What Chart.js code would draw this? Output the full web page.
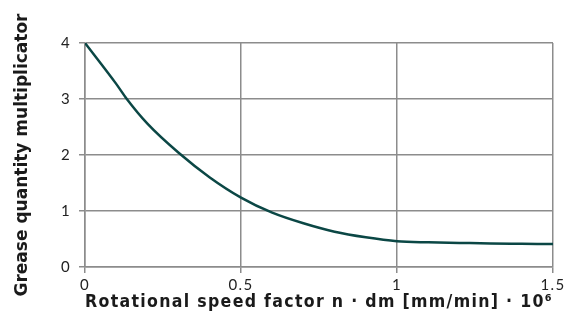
<!DOCTYPE html>
<html>
<head>
<meta charset="utf-8">
<script src="https://cdn.jsdelivr.net/npm/chart.js@4"></script>
<style>
  html, body { margin: 0; padding: 0; background: #fff; }
  #wrap { width: 570px; height: 329px; }
</style>
</head>
<body>
<div id="wrap"><canvas id="graf"></canvas></div>
<script>
// speed factor n*dm [mm/min] * 10^6
const speed_factor = [0, 0.1, 0.134, 0.2, 0.3, 0.4, 0.5, 0.6, 0.7, 0.8, 0.9, 1.0, 1.1, 1.2, 1.3, 1.4, 1.5]
const multiplicator = [4.0, 3.27, 3.0, 2.56, 2.04, 1.6, 1.24, 0.97, 0.78, 0.63, 0.53, 0.46, 0.44, 0.43, 0.42, 0.415, 0.41]
const x_ticks = [0, 0.5, 1, 1.5]
const y_ticks = [0, 1, 2, 3, 4]

let ctx_graf = document.getElementById('graf')

let pontos = speed_factor.map((x, i) => ({ x: x, y: multiplicator[i] }))

const tickFont = { family: 'Lato', size: 15 }
const tituloFont = { family: 'DejaVu Sans', size: 17, weight: 'bold' }
const gridCor = '#8c8c8c'

// the original type is spaced out a bit (x title and ticks), y title is not
const espacamento = {
  id: 'espacamento',
  beforeDraw(chart) {
    chart.ctx.letterSpacing = '1.4px'
    const y = chart.scales.y
    if (y && !y._semEspaco) {
      const orig = y.drawTitle.bind(y)
      y.drawTitle = function () {
        const c = this.ctx
        const antes = c.letterSpacing
        c.letterSpacing = '0px'
        orig()
        c.letterSpacing = antes
      }
      y._semEspaco = true
    }
  }
}

let graf = new Chart(ctx_graf, {
  type: 'scatter',
  data: {
    datasets: [{
      data: pontos,
      showLine: true,
      borderColor: '#0b4745',
      borderWidth: 2.5,
      pointRadius: 0,
      cubicInterpolationMode: 'monotone'
    }]
  },
  plugins: [espacamento],
  options: {
    responsive: true,
    maintainAspectRatio: false,
    animation: false,
    layout: { padding: { top: 43, right: 17, left: 0, bottom: 0 } },
    plugins: { legend: { display: false }, tooltip: { enabled: false } },
    scales: {
      x: {
        type: 'linear',
        min: 0,
        max: 1.5,
        afterBuildTicks: s => { s.ticks = x_ticks.map(v => ({ value: v })) },
        afterFit: s => { s.height = 62 },
        ticks: { font: tickFont, color: '#222', padding: 3, maxRotation: 0, callback: v => String(v) },
        grid: { color: gridCor, lineWidth: 1.5, tickLength: 6 },
        border: { color: gridCor, width: 1.5 },
        title: {
          display: true,
          text: 'Rotational speed factor n · dm [mm/min] · 10⁶',
          font: tituloFont,
          color: '#1a1a1a',
          padding: { top: 0, bottom: 16 }
        }
      },
      y: {
        min: 0,
        max: 4,
        afterBuildTicks: s => { s.ticks = y_ticks.map(v => ({ value: v })) },
        afterFit: s => { s.width = 85 },
        ticks: { font: tickFont, color: '#222', padding: 8, callback: v => String(v) },
        grid: { color: gridCor, lineWidth: 1.5, tickLength: 6 },
        border: { color: gridCor, width: 1.5 },
        title: {
          display: true,
          text: 'Grease quantity multiplicator',
          font: tituloFont,
          color: '#1a1a1a',
          padding: { top: 12, bottom: 0 }
        }
      }
    }
  }
})
</script>
</body>
</html>
